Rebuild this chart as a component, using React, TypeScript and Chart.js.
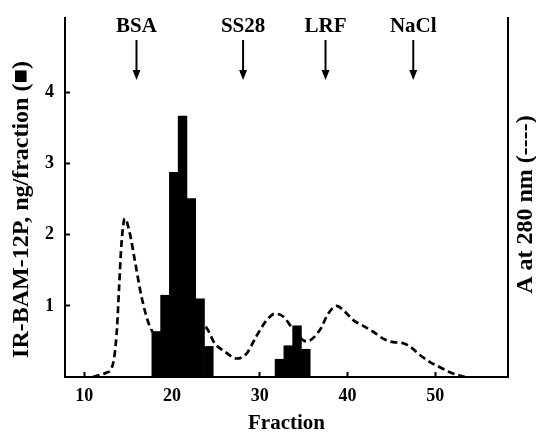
import { useEffect, useRef } from "react";
import { Chart, registerables } from "chart.js";

Chart.register(...registerables);

// Axis ticks
const xTicks = [10, 20, 30, 40, 50];
const yTicks = [1, 2, 3, 4];

// IR-BAM-12P histogram (fraction position, ng/fraction)
const barFractions = [18.2, 19.2, 20.2, 21.2, 22.2, 23.2, 24.2, 32.25, 33.25, 34.25, 35.25];
const barValues = [0.64, 1.15, 2.88, 3.67, 2.51, 1.1, 0.43, 0.25, 0.44, 0.72, 0.39];

// Absorbance at 280 nm (dashed trace)
const absFractions = [
  10.97, 11.77, 12.5, 13.1, 13.48, 13.74, 13.97, 14.24, 14.62, 15.19, 15.76, 16.52, 17.47,
  18.5, 20.0, 21.3, 22.6, 23.74, 24.88, 26.0, 27.35, 28.5, 29.6, 30.8, 31.72, 32.67, 33.88,
  35.3, 36.85, 37.8, 38.76, 39.7, 40.65, 41.8, 42.9, 44.07, 45.2, 46.2, 47.1, 48.25, 49.4,
  50.5, 51.6, 52.8, 53.4,
];
const absValues = [
  0, 0.03, 0.06, 0.12, 0.34, 0.71, 1.27, 1.88, 2.23, 2.02, 1.64, 1.13, 0.71,
  0.55, 0.5, 0.55, 0.72, 0.71, 0.47, 0.36, 0.26, 0.33, 0.57, 0.8, 0.89, 0.85, 0.66,
  0.5, 0.66, 0.89, 1.0, 0.92, 0.8, 0.72, 0.64, 0.54, 0.49, 0.48, 0.43, 0.31, 0.21,
  0.14, 0.07, 0.02, 0,
];

// Marker standards
const markerLabels = ["BSA", "SS28", "LRF", "NaCl"];
const markerFractions = [15.95, 28.1, 37.5, 47.5];

// Axis titles
const xTitle = "Fraction";
const yTitle = "IR-BAM-12P, ng/fraction (■)";
const y2Title = "A at 280 nm (----)";

const xMin = 7.8;
const xMax = 58.3;
const yMin = 0;
const yMax = 5.05;

const FONT = "'Liberation Serif', 'Times New Roman', serif";

const markerPlugin = {
  id: "markers",
  afterDraw(chart: any) {
    const { ctx, chartArea, scales } = chart;
    const xs = scales.x;
    ctx.save();
    ctx.fillStyle = "#000";
    ctx.strokeStyle = "#000";
    ctx.font = `bold 21px ${FONT}`;
    ctx.textAlign = "center";
    ctx.textBaseline = "alphabetic";
    markerLabels.forEach((label, i) => {
      const px = xs.getPixelForValue(markerFractions[i]);
      ctx.fillText(label, px, chartArea.top + 14);
      ctx.lineWidth = 2;
      ctx.beginPath();
      ctx.moveTo(px, chartArea.top + 22);
      ctx.lineTo(px, chartArea.top + 56);
      ctx.stroke();
      ctx.beginPath();
      ctx.moveTo(px - 4, chartArea.top + 52);
      ctx.lineTo(px + 4, chartArea.top + 52);
      ctx.lineTo(px, chartArea.top + 62);
      ctx.closePath();
      ctx.fill();
    });
    const midY = (chartArea.top + chartArea.bottom) / 2;
    ctx.font = `bold 24px ${FONT}`;
    ctx.textBaseline = "middle";
    // left axis title
    ctx.save();
    ctx.translate(chartArea.left - 43, midY + 12);
    ctx.rotate(-Math.PI / 2);
    ctx.fillText(yTitle, 0, 0);
    ctx.restore();
    // right axis title
    ctx.save();
    ctx.translate(chartArea.right + 18, midY + 7);
    ctx.rotate(-Math.PI / 2);
    ctx.fillText(y2Title, 0, 0);
    ctx.restore();
    ctx.restore();
  },
};

export default function App() {
  const ref = useRef<HTMLCanvasElement | null>(null);

  useEffect(() => {
    if (!ref.current) return;
    const chart = new Chart(ref.current, {
      type: "bar",
      data: {
        datasets: [
          {
            type: "bar",
            label: "IR-BAM-12P",
            data: barFractions.map((x, i) => ({ x, y: barValues[i] })),
            backgroundColor: "#000",
            borderWidth: 0,
            barPercentage: 1,
            categoryPercentage: 1,
            order: 0,
            yAxisID: "y",
          } as any,
          {
            type: "line",
            label: "A280",
            data: absFractions.map((x, i) => ({ x, y: absValues[i] })),
            borderColor: "#000",
            borderWidth: 2.7,
            borderDash: [7, 4],
            pointRadius: 0,
            fill: false,
            tension: 0.4,
            cubicInterpolationMode: "monotone",
            order: 1,
            yAxisID: "y2",
          } as any,
        ],
      },
      options: {
        responsive: false,
        animation: false,
        devicePixelRatio: 1,
        layout: { padding: { top: 18, left: 0, right: 0, bottom: 0 } },
        plugins: { legend: { display: false }, tooltip: { enabled: false } },
        scales: {
          x: {
            type: "linear",
            min: xMin,
            max: xMax,
            offset: false,
            afterBuildTicks: (s: any) => {
              s.ticks = xTicks.map((v) => ({ value: v }));
            },
            afterFit: (s: any) => {
              s.height = 59;
              s.paddingLeft = 0;
              s.paddingRight = 0;
            },
            grid: {
              offset: false,
              drawOnChartArea: false,
              drawTicks: true,
              tickLength: -5,
              tickWidth: 2,
              tickColor: "#000",
              color: "#000",
            },
            border: { display: true, color: "#000", width: 2 },
            ticks: {
              color: "#000",
              padding: 14,
              maxRotation: 0,
              font: { family: FONT, size: 18, weight: "bold" },
            },
            title: {
              display: true,
              text: xTitle,
              color: "#000",
              padding: { top: 0, bottom: 0 },
              font: { family: FONT, size: 21, weight: "bold" },
            },
          },
          y: {
            type: "linear",
            position: "left",
            min: yMin,
            max: yMax,
            afterBuildTicks: (s: any) => {
              s.ticks = yTicks.map((v) => ({ value: v }));
            },
            afterFit: (s: any) => {
              s.width = 65;
              s.paddingTop = 0;
              s.paddingBottom = 0;
            },
            grid: {
              drawOnChartArea: false,
              drawTicks: true,
              tickLength: -5,
              tickWidth: 2,
              tickColor: "#000",
              color: "#000",
            },
            border: { display: true, color: "#000", width: 2 },
            ticks: {
              color: "#000",
              padding: 16,
              font: { family: FONT, size: 18, weight: "bold" },
            },
          },
          y2: {
            type: "linear",
            position: "right",
            min: yMin,
            max: yMax,
            afterFit: (s: any) => {
              s.width = 28;
              s.paddingTop = 0;
              s.paddingBottom = 0;
            },
            grid: { display: false, drawOnChartArea: false, drawTicks: false },
            border: { display: true, color: "#000", width: 2 },
            ticks: { display: false },
          },
        },
      } as any,
      plugins: [markerPlugin],
    });
    return () => chart.destroy();
  }, []);

  return (
    <div style={{ position: "absolute", left: 0, top: 0, width: 536, height: 436, background: "#fff" }}>
      <canvas ref={ref} width={536} height={436} style={{ display: "block" }} />
    </div>
  );
}
